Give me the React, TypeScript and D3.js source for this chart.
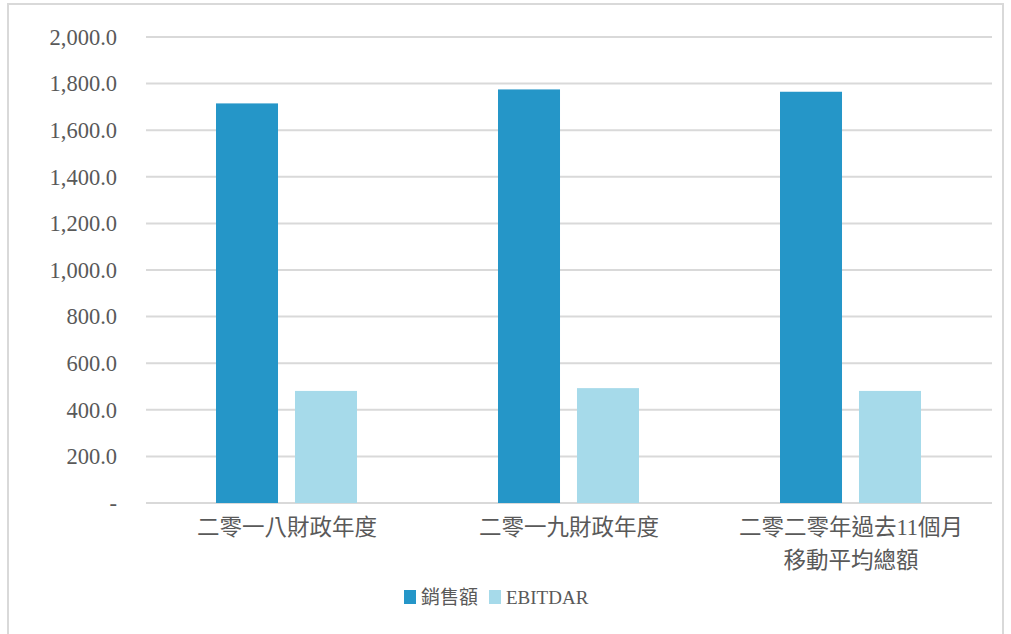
import React from "react";
import * as d3 from "d3";

const categories: string[][] = [
  ["二零一八財政年度"],
  ["二零一九財政年度"],
  ["二零二零年過去11個月", "移動平均總額"],
];
const seriesNames = ["銷售額", "EBITDAR"];
const sales = [1715, 1775, 1765];
const ebitdar = [481, 493, 481];
const yTicks = [0, 200, 400, 600, 800, 1000, 1200, 1400, 1600, 1800, 2000];
const colors = ["#2596C8", "#A6DAEA"];

const W = 1011;
const H = 634;
const M = { left: 146, right: 19, top: 37, bottom: 131 };
const FONT = "'Liberation Serif', 'Times New Roman', 'Noto Sans CJK TC', serif";
const TEXT = "#595959";

export default function App() {
  const x = d3
    .scaleBand<number>()
    .domain(categories.map((_, i) => i))
    .range([M.left, W - M.right]);
  const y = d3.scaleLinear().domain([0, 2000]).range([H - M.bottom, M.top]);
  const inner = d3
    .scaleBand<number>()
    .domain([0, 1])
    .range([0, 141])
    .paddingInner(0.215);
  const fmt = d3.format(",.1f");
  const series = [sales, ebitdar];

  return (
    <svg
      width={W}
      height={H}
      style={{ position: "absolute", left: 0, top: 0, background: "#fff" }}
      fontFamily={FONT}
    >
      <rect x={8} y={4} width={995} height={640} fill="#fff" stroke="#d9d9d9" strokeWidth={2} />
      {yTicks.map((t) => (
        <g key={t}>
          <line x1={M.left} x2={W - M.right} y1={y(t)} y2={y(t)} stroke="#d9d9d9" strokeWidth={2} />
          <text
            x={117}
            y={y(t)}
            dy="0.35em"
            textAnchor="end"
            fontSize={22.5}
            fill={TEXT}
          >
            {t === 0 ? "-" : fmt(t)}
          </text>
        </g>
      ))}
      {series.map((vals, si) =>
        vals.map((v, ci) => {
          const cx = (x(ci) as number) + x.bandwidth() / 2;
          const bx = cx - 71 + (inner(si) as number);
          return (
            <rect
              key={`${si}-${ci}`}
              x={bx}
              y={y(v)}
              width={inner.bandwidth()}
              height={y(0) - y(v)}
              fill={colors[si]}
            />
          );
        })
      )}
      {categories.map((lines, ci) => {
        const cx = (x(ci) as number) + x.bandwidth() / 2;
        return (
          <text key={ci} x={cx} textAnchor="middle" fontSize={22.5} fill={TEXT}>
            {lines.map((l, li) => (
              <tspan key={li} x={cx} y={527 + li * 33} dy="0.35em">
                {l}
              </tspan>
            ))}
          </text>
        );
      })}
      {seriesNames.map((n, i) => {
        const lx = [404, 489][i];
        return (
          <g key={n}>
            <rect x={lx} y={590} width={12} height={14} fill={colors[i]} />
            <text x={lx + 17} y={597} dy="0.35em" fontSize={19} fill={TEXT}>
              {n}
            </text>
          </g>
        );
      })}
    </svg>
  );
}
